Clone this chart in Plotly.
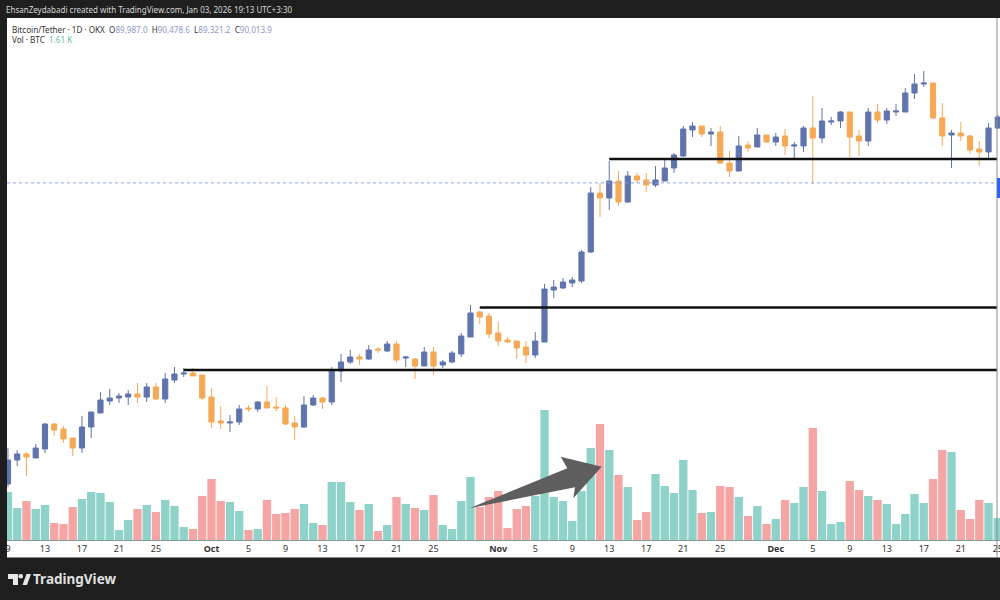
import pandas as pd
import plotly.graph_objects as go

# Prices, in hundreds of USDT (the price axis is not shown)
opens = [599,623,629,625,634,659,654,645,635,656,670,682,685,686,689,686,696,684,703,709,710,708,
         686,662,660,661,675,674,681,676,675,660,656,678,685,681,712,721,726,724,734,732,739,725,724,717,731,718,721,729,746,771,767,
         750,743,742,736,728,741,793,795,800,802,831,890,885,902,881,907,903,898,902,915,927,953,957,949,951,920,912,938,936,948,
         941,947,937,937,955,945,961,962,971,947,942,971,963,971,971,990,999,1000,965,948,950,947,934,931,955]
highs = [635,633,631,639,660,660,657,645,667,671,691,694,690,693,700,700,700,710,716,715,715,708,
         695,677,668,678,678,682,697,686,678,667,687,688,686,716,729,733,729,738,736,742,742,727,725,736,736,723,732,750,778,772,770,
         761,746,742,742,751,799,803,805,806,833,896,900,922,912,912,910,910,917,924,930,957,961,957,955,957,932,947,942,955,948,
         950,954,941,957,987,975,966,972,971,953,975,979,975,979,995,1009,1012,1000,980,953,961,948,942,960,968]
lows = [596,617,607,625,630,647,640,627,630,645,670,678,680,678,680,681,683,680,700,706,707,683,
        655,654,651,658,671,671,675,672,658,643,655,677,674,678,701,719,718,723,730,731,720,716,704,717,708,715,720,726,746,759,745,
        737,740,724,720,725,741,785,794,796,800,830,866,873,877,880,900,891,896,902,910,926,946,946,937,919,906,912,931,936,940,
        937,928,924,931,899,940,958,955,926,927,937,960,959,967,971,984,996,964,937,915,942,929,917,924,954]
closes = [623,629,626,635,659,653,644,635,656,671,683,685,687,689,686,696,684,704,709,710,707,685,
          661,660,661,674,674,681,675,675,659,656,678,685,681,713,721,726,724,733,733,739,723,726,717,731,717,721,730,747,770,766,749,
          742,741,735,728,742,794,796,801,803,831,890,885,902,881,907,903,898,903,915,928,954,957,949,951,920,912,937,935,948,941,
          946,937,938,955,945,962,962,971,946,942,971,963,972,972,990,999,1000,965,947,950,947,933,931,955,966]

# Volume, in hundreds of BTC
volumes = [48,32,39,31,35,17,16,33,41,48,47,38,10,20,31,35,28,40,34,13,11,44,
           61,39,38,29,10,11,40,26,27,31,36,17,15,58,58,38,30,36,9,15,43,36,32,30,45,15,11,39,63,33,43,
           49,12,31,34,44,130,43,39,19,49,92,116,90,65,53,20,28,66,54,47,80,50,27,28,54,53,43,24,34,16,
           21,40,37,53,112,49,16,18,59,50,44,40,36,16,26,46,37,61,90,88,30,21,40,37,22]
# g = green volume bar, r = red volume bar, one letter per day
sides_sep = "ggrggrrrggggggrgrgggrr"
sides_oct = "rrggrgrrrrggrgggrgrgrgrgrggggrr"
sides_nov = "rrrrggggggg" "rgrgrrggggg" "rgrrgrgr"
sides_dec = "grggrgggrrgrgggggrrgrrrgg"
volume_sides = list(sides_sep + sides_oct + sides_nov + sides_dec)

first_day = "2024-09-09"
days = pd.date_range(first_day, periods=len(opens))

tick_days = ["2024-09-09","2024-09-13","2024-09-17","2024-09-21","2024-09-25","2024-10-01","2024-10-05","2024-10-09",
             "2024-10-13","2024-10-17","2024-10-21","2024-10-25","2024-11-01","2024-11-05","2024-11-09","2024-11-13",
             "2024-11-17","2024-11-21","2024-11-25","2024-12-01","2024-12-05","2024-12-09","2024-12-13","2024-12-17",
             "2024-12-21","2024-12-25"]
tick_labels = ["9","13","17","21","25","<b>Oct</b>","5","9","13","17","21","25","<b>Nov</b>","5","9","13","17","21","25",
               "<b>Dec</b>","5","9","13","17","21","25"]

level_starts = ["2024-09-28","2024-10-30","2024-11-13"]
level_prices = [71300,77550,92400]
last_price = 90013.9

UP, DOWN = "#5f74ad", "#f6a955"
VOL_UP, VOL_DOWN = "#8fd2c9", "#f6a5a5"
DARK = "#1e1e1e"
FONT = "Noto Sans"


def px(x):
    return x / 1000


def py(y):
    return 1 - y / 600


fig = go.Figure()
fig.add_trace(go.Bar(
    x=days, y=volumes, yaxis="y2",
    marker=dict(color=[VOL_UP if s == "g" else VOL_DOWN for s in volume_sides], line_width=0),
))
fig.add_trace(go.Candlestick(
    x=days,
    open=[v * 100 for v in opens], high=[v * 100 for v in highs],
    low=[v * 100 for v in lows], close=[v * 100 for v in closes],
    increasing=dict(line=dict(color=UP, width=1), fillcolor=UP),
    decreasing=dict(line=dict(color=DOWN, width=1), fillcolor=DOWN),
    yaxis="y",
))

shapes = [
    dict(type="rect", xref="paper", yref="paper", layer="below", x0=px(7), x1=1, y0=py(558), y1=py(18),
         fillcolor="white", line_width=0),
    dict(type="line", xref="paper", yref="y", x0=px(7), x1=px(997), y0=last_price, y1=last_price,
         line=dict(color="#8f9fe8", width=1, dash="dot")),
]
for start, price in zip(level_starts, level_prices):
    shapes.append(dict(type="line", xref="x", yref="y", x0=start, x1="2024-12-24 22:00", y0=price, y1=price,
                       line=dict(color="#111111", width=2.4)))
arrow = [(469.3, 508.3), (567.3, 468.3), (560.7, 456.7), (601.7, 466.7), (573.3, 498.3), (575, 487.3)]
path = "M " + " L ".join(f"{px(a)} {py(b)}" for a, b in arrow) + " Z"
shapes.append(dict(type="path", xref="paper", yref="paper", path=path, fillcolor="#5e5e5e", line_width=0))
shapes.append(dict(type="line", xref="paper", yref="paper", x0=px(997), x1=px(997), y0=py(558), y1=py(18),
                   line=dict(color="#8a8a8a", width=1)))
shapes.append(dict(type="rect", xref="paper", yref="paper", x0=px(997), x1=1, y0=py(198), y1=py(178),
                   fillcolor="#2962ff", line_width=0))
shapes.append(dict(type="line", xref="paper", yref="paper", x0=px(7), x1=1, y0=py(557.5), y1=py(557.5),
                   line=dict(color="#8a8a8a", width=1)))
# TradingView mark
logo_t = [(8, 574), (18, 574), (18, 585), (13, 585), (13, 579), (8, 579)]
logo_v = [(22.5, 585), (26.5, 574), (31, 574), (27, 585)]
for poly in (logo_t, logo_v):
    p = "M " + " L ".join(f"{px(a)} {py(b)}" for a, b in poly) + " Z"
    shapes.append(dict(type="path", xref="paper", yref="paper", path=p, fillcolor="#e6e6e6", line_width=0))
shapes.append(dict(type="circle", xref="paper", yref="paper", x0=px(18.5), x1=px(23), y0=py(578.5), y1=py(574),
                   fillcolor="#e6e6e6", line_width=0))


def note(x, y, text, size, color="#333333"):
    return dict(xref="paper", yref="paper", x=px(x), y=py(y), xanchor="left", yanchor="middle", showarrow=False,
                text=text, font=dict(family=FONT, size=size, color=color), borderpad=0, borderwidth=0)


V = "#8d98c4"
annotations = [
    note(6, 9, "EhsanZeydabadi created with TradingView.com, Jan 03, 2026 19:13 UTC+3:30", 8, "#d8d8d8"),
    note(12, 29, f'Bitcoin/Tether · 1D · OKX  O<span style="color:{V}">89,987.0</span>  '
                 f'H<span style="color:{V}">90,478.6</span>  L<span style="color:{V}">89,321.2</span>  '
                 f'C<span style="color:{V}">90,013.9</span>', 8.1),
    note(12, 40, 'Vol · BTC  <span style="color:#5fbfb0">1.61 K</span>', 8.1),
    note(33, 579, "<b>TradingView</b>", 13.5, "#e0e0e0"),
]

fig.update_layout(
    width=1000, height=600, margin=dict(l=0, r=0, t=0, b=0, pad=0, autoexpand=False),
    paper_bgcolor=DARK, plot_bgcolor="rgba(0,0,0,0)", showlegend=False, bargap=0.1, boxgap=0.2,
    xaxis=dict(domain=[px(7), 1], type="date", range=["2024-09-08 21:30", "2024-12-25 05:45"],
               anchor="y2", rangeslider=dict(visible=False), showgrid=False, zeroline=False,
               tickmode="array", tickvals=tick_days, ticktext=tick_labels, ticks="", ticklabeloverflow="allow",
               tickfont=dict(family=FONT, size=9, color="#333333"), showline=True, linecolor="#7f9a98", linewidth=1),
    yaxis=dict(domain=[py(540), py(18)], range=[54300, 106500], visible=False, fixedrange=True),
    yaxis2=dict(domain=[py(540), py(400)], range=[0, 140], visible=False, anchor="x"),
    shapes=shapes, annotations=annotations,
)
fig.write_html("out.html", config=dict(displayModeBar=False),
               post_script="document.body.style.margin='0';document.body.style.background='#1e1e1e';")
